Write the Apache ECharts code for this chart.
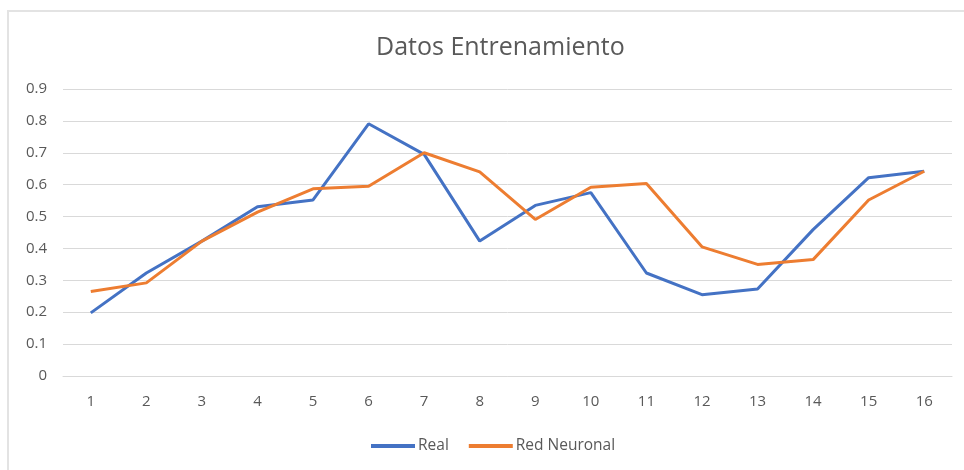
<!DOCTYPE html>
<html>
<head>
<meta charset="utf-8">
<script src="https://cdn.jsdelivr.net/npm/echarts@6/dist/echarts.min.js"></script>
<style>
  html, body { margin: 0; padding: 0; background: #fff; }
  #frame {
    position: absolute; left: 7px; top: 10px; width: 1000px; height: 500px;
    border-left: 2px solid #e3e3e3; border-top: 2px solid #e3e3e3;
  }
  #chart { position: absolute; left: 0; top: 0; width: 964px; height: 470px; }
</style>
</head>
<body>
<div id="frame"></div>
<div id="chart"></div>
<script>
// categorias del eje x
const categories = ['1', '2', '3', '4', '5', '6', '7', '8', '9', '10', '11', '12', '13', '14', '15', '16']

// valores reales
const realValues = [0.198, 0.323, 0.423, 0.531, 0.552, 0.791, 0.695, 0.423, 0.535, 0.575, 0.323, 0.255, 0.273, 0.459, 0.622, 0.642]

// salida de la red neuronal
const redValues = [0.265, 0.292, 0.423, 0.514, 0.587, 0.595, 0.700, 0.640, 0.491, 0.592, 0.604, 0.405, 0.350, 0.365, 0.552, 0.642]

const textColor = '#595959'
const fontFamily = '"Open Sans", "Noto Sans", sans-serif'

const chart = echarts.init(document.getElementById('chart'))

const option = {
  animation: false,
  title: {
    text: 'Datos Entrenamiento',
    left: 371,
    top: 30,
    textStyle: { color: textColor, fontSize: 25, fontWeight: 'normal', fontFamily }
  },
  legend: {
    left: 366,
    top: 433,
    itemWidth: 44,
    itemHeight: 4,
    itemGap: 20,
    icon: 'rect',
    textStyle: { color: textColor, fontSize: 15.5, fontFamily, padding: [0, 0, 0, -2] },
    data: ['Real', 'Red Neuronal']
  },
  grid: { left: 63, right: 12, top: 89, bottom: 94 },
  xAxis: {
    type: 'category',
    data: categories,
    boundaryGap: true,
    axisLine: { show: true, lineStyle: { color: '#d9d9d9', width: 1 } },
    axisTick: { show: false },
    axisLabel: { color: textColor, fontSize: 15, fontFamily, margin: 18 }
  },
  yAxis: {
    type: 'value',
    min: 0,
    max: 0.9,
    interval: 0.1,
    axisLine: { show: false },
    axisTick: { show: false },
    splitLine: { lineStyle: { color: '#d9d9d9', width: 1 } },
    axisLabel: { color: textColor, fontSize: 15, fontFamily, margin: 16 }
  },
  series: [
    {
      name: 'Real',
      type: 'line',
      data: realValues,
      symbol: 'none',
      lineStyle: { color: '#4472C4', width: 3 },
      itemStyle: { color: '#4472C4' }
    },
    {
      name: 'Red Neuronal',
      type: 'line',
      data: redValues,
      symbol: 'none',
      lineStyle: { color: '#ED7D31', width: 3 },
      itemStyle: { color: '#ED7D31' }
    }
  ]
}

chart.setOption(option)
</script>
</body>
</html>
